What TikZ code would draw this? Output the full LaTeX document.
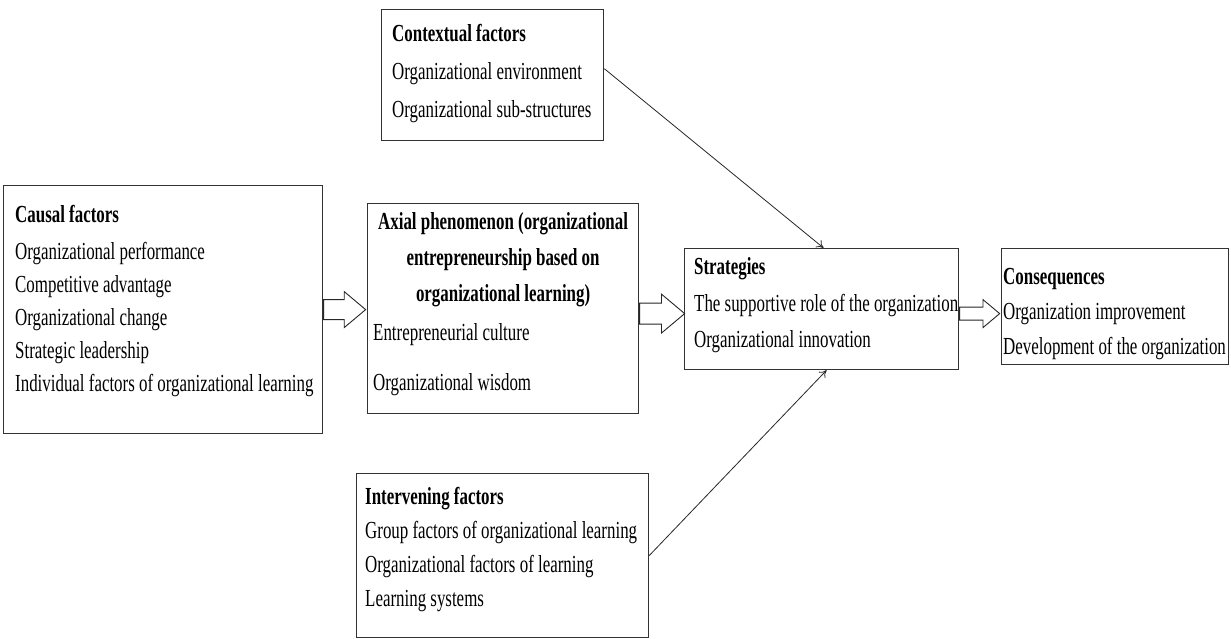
\documentclass[tikz,border=0pt]{standalone}
\usepackage{fontspec}
\setmainfont{Liberation Serif}[FakeStretch=0.69]
\usetikzlibrary{shapes.arrows,arrows.meta}

\begin{document}
\begin{tikzpicture}[x=1pt,y=-1pt,
	box/.style={draw=black!80,line width=1.2pt,anchor=north west,inner sep=0pt},
	txt/.style={anchor=north west,inner sep=0pt,align=left},
	link/.style={-{To[length=7pt,width=9pt]},black!85,line width=0.8pt},
	fatarrow/.style={single arrow,draw=black!85,line width=0.9pt,fill=white,
		inner xsep=0pt,minimum width=0pt,single arrow tip angle=80,anchor=tail}
	]
	\useasboundingbox (0,0) rectangle (1231,639);

	\node[box,minimum width=319pt,minimum height=248pt] (causal) at (3,185) {};
	\node[box,minimum width=271pt,minimum height=210pt] (axial) at (367,203) {};
	\node[box,minimum width=222pt,minimum height=131pt] (context) at (381,9) {};
	\node[box,minimum width=292pt,minimum height=164pt] (interv) at (356,473) {};
	\node[box,minimum width=274pt,minimum height=121pt] (strat) at (684,248) {};
	\node[box,minimum width=227pt,minimum height=116pt] (conseq) at (1001,248) {};

	\node[txt,font=\fontsize{24.5}{33}\selectfont] (causaltxt) at ([xshift=12pt,yshift=-20.5pt]causal.north west)
		{\textbf{Causal factors}\\[4pt] Organizational performance\\ Competitive advantage\\
		Organizational change\\ Strategic leadership\\ Individual factors of organizational learning};
	\node[anchor=north,inner sep=0pt,align=center,font=\fontsize{24.5}{36}\selectfont\bfseries] (axialhead)
		at ([yshift=-9pt]axial.north) {Axial phenomenon (organizational\\ entrepreneurship based on\\ organizational learning)};
	\node[txt,font=\fontsize{24.5}{34}\selectfont] (axialtxt) at ([xshift=6pt,yshift=-120pt]axial.north west)
		{Entrepreneurial culture\\[16pt] Organizational wisdom};
	\node[txt,font=\fontsize{24.5}{38}\selectfont] (contexttxt) at ([xshift=11pt,yshift=-15pt]context.north west)
		{\textbf{Contextual factors}\\ Organizational environment\\ Organizational sub-structures};
	\node[txt,font=\fontsize{24.5}{34}\selectfont] (intervtxt) at ([xshift=9pt,yshift=-14.5pt]interv.north west)
		{\textbf{Intervening factors}\\ Group factors of organizational learning\\
		Organizational factors of learning\\ Learning systems};
	\node[txt,font=\fontsize{24.5}{36.5}\selectfont] (strattxt) at ([xshift=10pt,yshift=-9.5pt]strat.north west)
		{\textbf{Strategies}\\ The supportive role of the organization\\ Organizational innovation};
	\node[txt,font=\fontsize{24.5}{35}\selectfont] (conseqtxt) at ([xshift=2pt,yshift=-20.5pt]conseq.north west)
		{\textbf{Consequences}\\ Organization improvement\\ Development of the organization};

	\node[fatarrow,minimum height=42pt,inner ysep=9.5pt,single arrow head extend=8pt] (arrowa) at (causal.east) {};
	\node[fatarrow,minimum height=45pt,inner ysep=10pt,single arrow head extend=9pt] (arrowb) at ([yshift=-5pt]axial.east) {};
	\node[fatarrow,minimum height=40pt,inner ysep=6pt,single arrow head extend=7.5pt] (arrowc) at ([yshift=-4.5pt]strat.east) {};

	\draw[link] ([yshift=6.5pt]context.east) -- ([xshift=2pt]strat.north);
	\draw[link] (interv.east) -- ([xshift=5pt]strat.south);
\end{tikzpicture}
\end{document}
